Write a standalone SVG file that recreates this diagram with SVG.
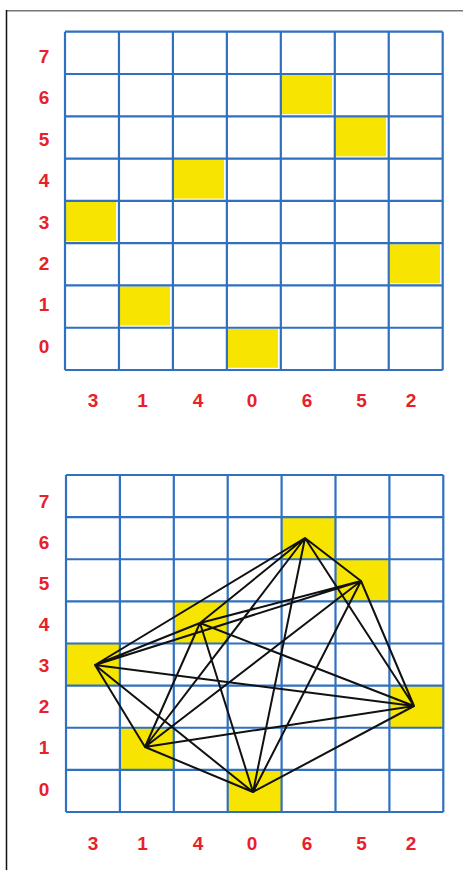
<svg xmlns="http://www.w3.org/2000/svg" width="463" height="870" viewBox="0 0 463 870">
<style>
.grid{fill:none;stroke:#2f70c0;stroke-width:2.2}
.q{fill:#f7e400}
.lbl{font-family:"Liberation Sans",Arial,sans-serif;font-weight:bold;font-size:19px;fill:#e8202a;text-anchor:middle}
.edge{stroke:#111;stroke-width:2;fill:none;stroke-linecap:round}
</style>
<rect width="463" height="870" fill="#fff"/>
<line x1="6.5" y1="10.7" x2="463" y2="10.7" stroke="#777" stroke-width="1.5"/>
<line x1="6.5" y1="10" x2="6.5" y2="870" stroke="#111" stroke-width="1.5"/>

<g id="top-board">
<g id="top-queens">
<rect class="q" x="66" y="202" width="50" height="39"/>
<rect class="q" x="120" y="286.5" width="50" height="39"/>
<rect class="q" x="174" y="159.6" width="50" height="39"/>
<rect class="q" x="228" y="328.8" width="50" height="39"/>
<rect class="q" x="282" y="75" width="50" height="39"/>
<rect class="q" x="336" y="117.3" width="50" height="39"/>
<rect class="q" x="390" y="244.2" width="50" height="39"/>
</g>
<path class="grid" d="M65 31.7V370M118.96 31.7V370M172.91 31.7V370M226.87 31.7V370M280.83 31.7V370M334.79 31.7V370M388.74 31.7V370M442.7 31.7V370M65 31.7H442.7M65 73.99H442.7M65 116.28H442.7M65 158.57H442.7M65 200.86H442.7M65 243.15H442.7M65 285.44H442.7M65 327.73H442.7M65 370H442.7"/>
<g id="top-row-labels">
<text class="lbl" x="44" y="63">7</text>
<text class="lbl" x="44" y="104.4">6</text>
<text class="lbl" x="44" y="145.8">5</text>
<text class="lbl" x="44" y="187.2">4</text>
<text class="lbl" x="44" y="228.6">3</text>
<text class="lbl" x="44" y="270">2</text>
<text class="lbl" x="44" y="311.4">1</text>
<text class="lbl" x="44" y="352.8">0</text>
</g>
<g id="top-col-labels">
<text class="lbl" x="93" y="407">3</text>
<text class="lbl" x="142.5" y="407">1</text>
<text class="lbl" x="198" y="407">4</text>
<text class="lbl" x="252" y="407">0</text>
<text class="lbl" x="307" y="407">6</text>
<text class="lbl" x="361.5" y="407">5</text>
<text class="lbl" x="411" y="407">2</text>
</g>
</g>

<g id="bottom-board">
<g id="bottom-queens">
<rect class="q" x="66" y="643.5" width="53.9" height="42.1"/>
<rect class="q" x="119.9" y="727.75" width="53.9" height="42.1"/>
<rect class="q" x="173.8" y="601.38" width="53.9" height="42.1"/>
<rect class="q" x="227.7" y="769.88" width="53.9" height="42.1"/>
<rect class="q" x="281.6" y="517.13" width="53.9" height="42.1"/>
<rect class="q" x="335.5" y="559.25" width="53.9" height="42.1"/>
<rect class="q" x="389.4" y="685.63" width="53.9" height="42.1"/>
</g>
<path class="grid" d="M66 475V812M119.9 475V812M173.8 475V812M227.7 475V812M281.6 475V812M335.5 475V812M389.4 475V812M443.3 475V812M66 475H443.3M66 517.13H443.3M66 559.25H443.3M66 601.38H443.3M66 643.5H443.3M66 685.63H443.3M66 727.75H443.3M66 769.88H443.3M66 812H443.3"/>
<g id="bottom-row-labels">
<text class="lbl" x="44" y="508.2">7</text>
<text class="lbl" x="44" y="549.2">6</text>
<text class="lbl" x="44" y="590.3">5</text>
<text class="lbl" x="44" y="631.3">4</text>
<text class="lbl" x="44" y="672.4">3</text>
<text class="lbl" x="44" y="713.4">2</text>
<text class="lbl" x="44" y="754.4">1</text>
<text class="lbl" x="44" y="795.5">0</text>
</g>
<g id="bottom-col-labels">
<text class="lbl" x="93" y="850">3</text>
<text class="lbl" x="142.5" y="850">1</text>
<text class="lbl" x="198" y="850">4</text>
<text class="lbl" x="252" y="850">0</text>
<text class="lbl" x="307" y="850">6</text>
<text class="lbl" x="361.5" y="850">5</text>
<text class="lbl" x="411" y="850">2</text>
</g>
</g>

<g id="connectors">
<path class="edge" d="M95 665L145 747M95 665L200 623M95 665L253 792M95 665L305 538M95 665L361 581M95 665L414 706M145 747L200 623M145 747L253 792M145 747L305 538M145 747L361 581M145 747L414 706M200 623L253 792M200 623L305 538M200 623L361 581M200 623L414 706M253 792L305 538M253 792L361 581M253 792L414 706M305 538L361 581M305 538L414 706M361 581L414 706"/>
</g>
</svg>
